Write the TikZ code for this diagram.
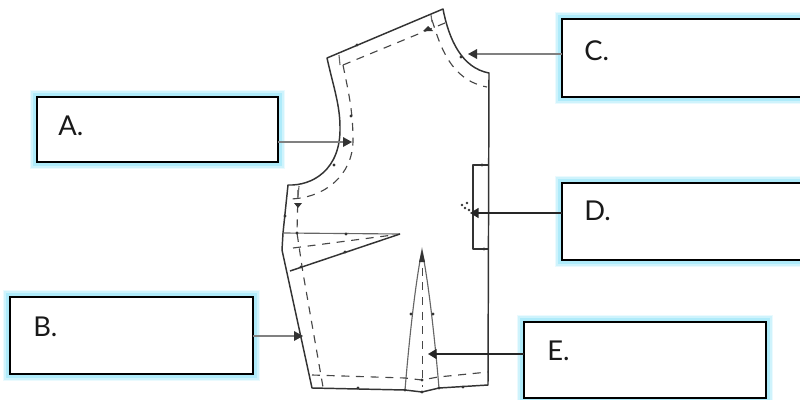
\documentclass[tikz,border=0pt]{standalone}
\usepackage{fontspec}
\setmainfont{Lato}
\usetikzlibrary{arrows.meta}
\definecolor{glowa}{HTML}{EAFAFE}
\definecolor{glowb}{HTML}{CFF3FC}
\definecolor{glowc}{HTML}{AFEBFA}
\definecolor{ink}{HTML}{333333}
\tikzset{
  glowbox/.style={rectangle, draw=black, line width=1.7pt, fill=white, inner sep=0pt, outer sep=0pt, anchor=north west,
    preaction={draw=glowa, line width=11pt, rounded corners=5pt},
    preaction={draw=glowb, line width=8.5pt, rounded corners=4pt},
    preaction={draw=glowc, line width=6pt, rounded corners=3pt}},
  lettertext/.style={anchor=base west, inner sep=0pt, font=\fontsize{20.5}{24}\selectfont, text=black!90},
  outline/.style={draw=ink, line width=1.1pt, line join=round},
  thinline/.style={draw=ink!75, line width=0.85pt},
  seam/.style={draw=ink!90, line width=0.85pt, dash pattern=on 6pt off 5pt},
  pointer/.style={-{Triangle[length=6.5pt,width=7.5pt]}, line width=1.2pt, draw=black!85},
  softshaft/.style={line width=2.2pt, draw=black!50, shorten >=4pt},
  softhead/.style={fill=black!80},
  notch/.style={fill=ink}
}
\begin{document}
\begin{tikzpicture}[x=0.75pt,y=-0.75pt]
\clip (0,0) rectangle (800,400);
% pattern piece
\draw[outline] (327,58) -- (443,9)
  .. controls (449,40) and (462,68) .. (489,73)
  -- (488,385) -- (439,388) -- (422,392) -- (405,390) -- (312,388)
  -- (282,250) -- (283,233) -- (288,185)
  .. controls (312,186) and (341,170) .. (340,127)
  .. controls (340,105) and (333,85) .. (327,58) -- cycle;
% darts
\draw[thinline] (283,233) -- (400,234);
\draw[outline] (290,271) -- (400,234);
\draw[thinline] (405,390) .. controls (410,330) and (416,280) .. (422,250)
  .. controls (428,280) and (434,330) .. (439,388);
% grain box
\draw[outline] (489,165) -- (473,165) -- (473,249) -- (489,249);
% seam allowance
\draw[seam] (343,65) -- (445,23);
\draw[seam] (432,20) .. controls (440,45) and (450,80) .. (487,87);
\draw[seam] (343,65) .. controls (348,90) and (353,110) .. (353,140)
  .. controls (353,175) and (325,198) .. (290,199);
\draw[seam] (298,190) -- (297,233) -- (303,273) -- (323,387);
\draw[seam] (312,375) -- (405,378) -- (422,380) -- (438,377) -- (488,372);
\draw[seam] (293,248) -- (393,235);
\draw[seam] (422.4,253) -- (422.4,387);
\draw[thinline] (339,55) -- (340,65);
\draw[thinline] (299,186) -- (298,197);
\draw[thinline] (431,15) -- (432,22);
% notches
\foreach \p in {(357,45),(461,57),(351,116),(334,165),(285,216),(297,233),(346,234),(345,252),(301,267),(358,388),(463,387),(411,314),(433,314),(405,390),(422,392),(439,388),(422,380),(482,165),(484,249)}
  \fill[notch] \p circle (1.25pt);
\fill[notch] (298,208) -- (294,203) -- (302,203) -- cycle;
\fill[notch] (428,26) -- (433,31) -- (423,31) -- cycle;
\fill[notch] (422,250) -- (425,262) -- (419,262) -- cycle;
\foreach \p in {(462,205),(467,203),(465,208),(469,210)}
  \fill[notch] \p circle (1.1pt);
% boxes
\node[glowbox, minimum width=180.75pt, minimum height=48.75pt] (boxa) at (37,97) {};
\node[glowbox, minimum width=182.25pt, minimum height=57.75pt] (boxb) at (10,297) {};
\node[glowbox, minimum width=190pt, minimum height=58.5pt] (boxc) at (562,19) {};
\node[glowbox, minimum width=190pt, minimum height=57.75pt] (boxd) at (562,183) {};
\node[glowbox, minimum width=181.5pt, minimum height=57pt] (boxe) at (524,322) {};
\node[lettertext] (la) at (58,135) {A.};
\node[lettertext] (lb) at (33,336) {B.};
\node[lettertext] (lc) at (584,60) {C.};
\node[lettertext] (ld) at (584,220) {D.};
\node[lettertext] (le) at (547,360) {E.};
% arrows
\coordinate (tipa) at (352,142);
\coordinate (tipb) at (303,336);
\coordinate (tipc) at (468,54);
\coordinate (tipd) at (470,213);
\coordinate (tipe) at (428,354);
\draw[softshaft] (boxa.east |- tipa) -- (tipa);
\draw[softshaft] (boxb.east |- tipb) -- (tipb);
\draw[softshaft] (boxc.west |- tipc) -- (tipc);
\fill[softhead] (tipa) -- ++(-9,-5) -- ++(0,10) -- cycle;
\fill[softhead] (tipb) -- ++(-9,-5) -- ++(0,10) -- cycle;
\fill[softhead] (tipc) -- ++(9,-5) -- ++(0,10) -- cycle;
\draw[pointer] (boxd.west |- tipd) -- (tipd);
\draw[pointer] (boxe.west |- tipe) -- (tipe);
\end{tikzpicture}
\end{document}
